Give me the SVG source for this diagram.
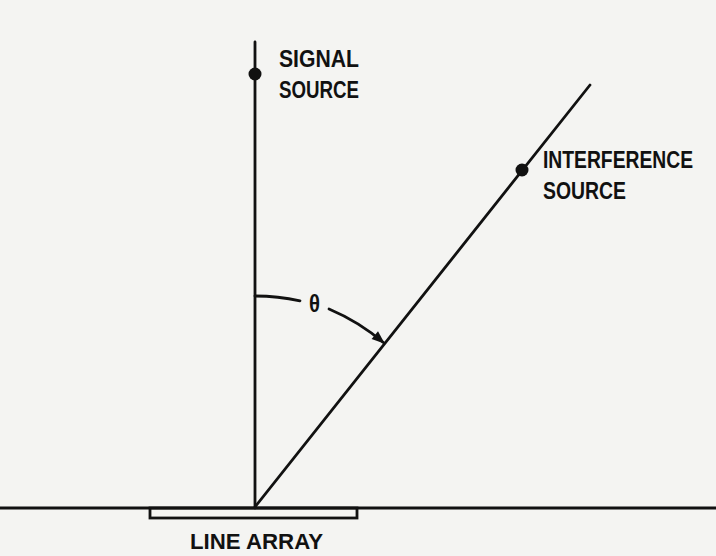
<svg xmlns="http://www.w3.org/2000/svg" width="716" height="556" viewBox="0 0 716 556">
<style>
.ln{stroke:#111;stroke-width:2.8;fill:none;stroke-linecap:round}
.t{font-family:"Liberation Sans",Arial,sans-serif;font-size:19px;font-weight:bold;fill:#111}
</style>
<defs>
<marker id="ah2" viewBox="0 0 12 10" refX="11" refY="5" markerWidth="15" markerHeight="11" orient="auto" markerUnits="userSpaceOnUse">
<path d="M0,0.5 L12,5 L0,9.5 Z" fill="#111"/>
</marker>
</defs>
<rect width="716" height="556" fill="#f4f4f2"/>
<g id="connectors">
<line class="ln" x1="255" y1="42" x2="255" y2="508"/>
<line class="ln" x1="255" y1="507" x2="590" y2="85"/>
<line class="ln" x1="0" y1="508" x2="716" y2="508"/>
<path class="ln" d="M255,296 A211,211 0 0 1 300,300.8"/>
<path class="ln" d="M329,309 A211,211 0 0 1 384,343" marker-end="url(#ah2)"/>
</g>
<g id="line-array">
<rect x="150" y="508" width="207" height="10" fill="none" stroke="#111" stroke-width="2.8"/>
<text class="t" transform="translate(190,549) scale(1,1.2)" textLength="133" lengthAdjust="spacingAndGlyphs">LINE ARRAY</text>
</g>
<g id="signal-source">
<circle cx="255" cy="74" r="6.5" fill="#111"/>
<text class="t" transform="translate(279,67) scale(1,1.27)" textLength="80" lengthAdjust="spacingAndGlyphs">SIGNAL</text>
<text class="t" transform="translate(279,98) scale(1,1.27)" textLength="80" lengthAdjust="spacingAndGlyphs">SOURCE</text>
</g>
<g id="interference-source">
<circle cx="522" cy="170" r="6.5" fill="#111"/>
<text class="t" transform="translate(543,168) scale(1,1.27)" textLength="150" lengthAdjust="spacingAndGlyphs">INTERFERENCE</text>
<text class="t" transform="translate(543,199) scale(1,1.27)" textLength="83" lengthAdjust="spacingAndGlyphs">SOURCE</text>
</g>
<g id="theta">
<text class="t" transform="translate(309,312) scale(1,1.25)" font-size="20" textLength="11" lengthAdjust="spacingAndGlyphs">θ</text>
</g>
</svg>
